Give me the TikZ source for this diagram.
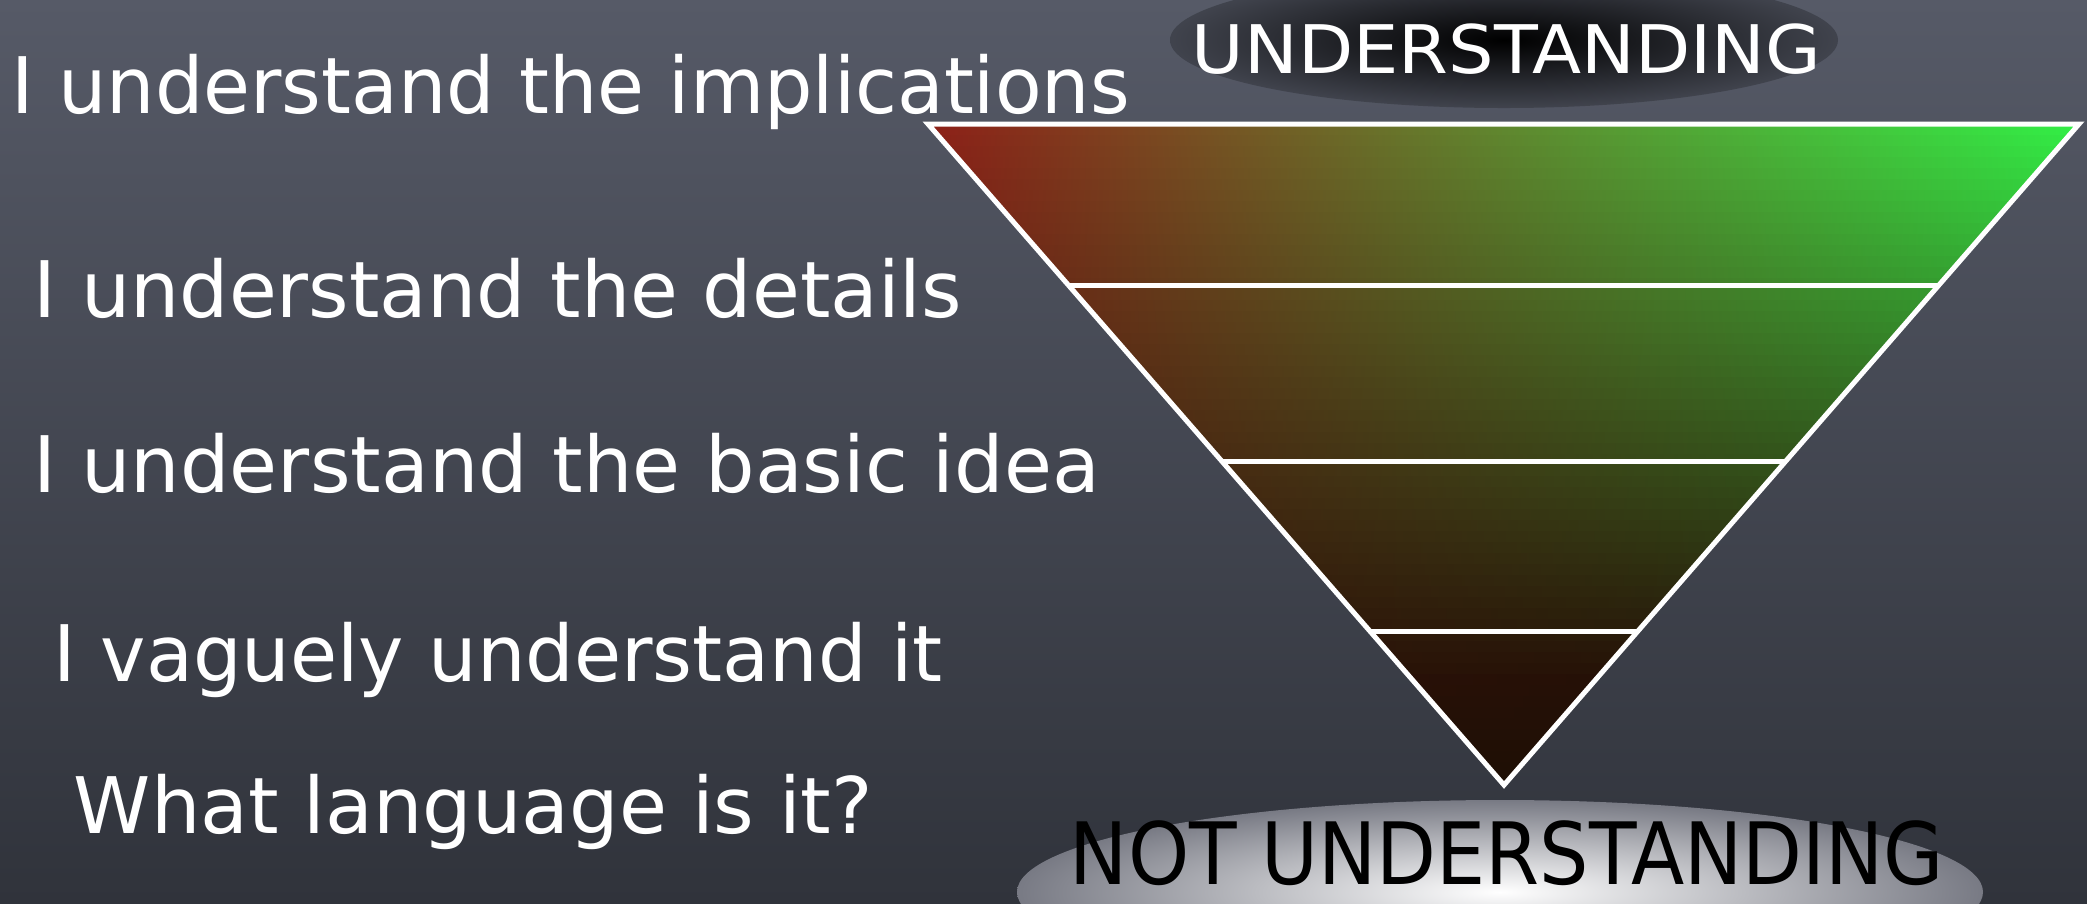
\documentclass[tikz,border=0pt]{standalone}
\usepackage{fontspec}
\setmainfont{DejaVu Sans}
\usetikzlibrary{calc}
\definecolor{bgtop}{RGB}{86,90,103}
\definecolor{bgbot}{RGB}{48,51,59}
\definecolor{tl}{RGB}{142,32,24}
\definecolor{tm}{RGB}{120,104,40}
\definecolor{tr}{RGB}{50,240,70}
\definecolor{dk}{RGB}{30,15,5}
\definecolor{glowout}{RGB}{120,122,132}
\tikzset{
  lbl/.style={anchor=base west, inner sep=0pt, text=white, font=\fontsize{19.5}{20}\selectfont},
  edgeline/.style={draw=white, line width=1.25pt},
}
\begin{document}
\begin{tikzpicture}[x=0.25pt,y=-0.25pt]
\useasboundingbox (0,0) rectangle (2087,903);
\shade[top color=bgtop, bottom color=bgbot] (0,0) rectangle (2087,903);
% glows
\shade[inner color=black, outer color=bgtop!75!black] (1504,40) ellipse [x radius=83.5pt, y radius=17pt];
\shade[inner color=white, outer color=glowout] (1500,892) ellipse [x radius=120.75pt, y radius=23pt];
% triangle
\coordinate (TL) at (928,124);
\coordinate (TR) at (2079,124);
\coordinate (AP) at (1504,785);
\begin{scope}
\clip (TL) -- (TR) -- (AP) -- cycle;
\foreach \i in {0,...,59}{
  \pgfmathsetmacro\ya{124+\i*(661/60)}
  \pgfmathsetmacro\yb{\ya+(661/60)+1}
  \pgfmathtruncatemacro\f{100-(\i+0.5)*(100/60)}
  \pgfmathtruncatemacro\g{max(0,100-(\i+0.5)*(118/60))}
  \shade[left color=tl!\f!dk, middle color=tm!\f!dk, right color=tr!\g!dk] (928,\ya) rectangle (2079,\yb);
}
\end{scope}
\coordinate (l1) at ($(TL)!0.2436!(AP)$);
\coordinate (r1) at ($(TR)!0.2436!(AP)$);
\coordinate (l2) at ($(TL)!0.5113!(AP)$);
\coordinate (r2) at ($(TR)!0.5113!(AP)$);
\coordinate (l3) at ($(TL)!0.7685!(AP)$);
\coordinate (r3) at ($(TR)!0.7685!(AP)$);
\draw[edgeline] (l1) -- (r1);
\draw[edgeline] (l2) -- (r2);
\draw[edgeline] (l3) -- (r3);
\draw[edgeline, line join=miter] (TL) -- (TR) -- (AP) -- cycle;
% labels
\node[lbl] (t1) at (11,113) {\resizebox{279.5pt}{\height}{I understand the implications}};
\node[lbl] (t2) at (33,317) {\resizebox{232pt}{\height}{I understand the details}};
\node[lbl] (t3) at (33,492) {\resizebox{266.5pt}{\height}{I understand the basic idea}};
\node[lbl] (t4) at (53,681) {\resizebox{222.25pt}{\height}{I vaguely understand it}};
\node[lbl] (t5) at (73,833) {\resizebox{199.75pt}{\height}{What language is it?}};
\node[lbl, font=\fontsize{16.75}{18}\selectfont] (top) at (1191,73) {\resizebox{157.25pt}{\height}{UNDERSTANDING}};
\node[lbl, text=black, font=\fontsize{21.5}{24}\selectfont] (bot) at (1069,884) {\resizebox{218.5pt}{\height}{NOT UNDERSTANDING}};
\end{tikzpicture}
\end{document}
